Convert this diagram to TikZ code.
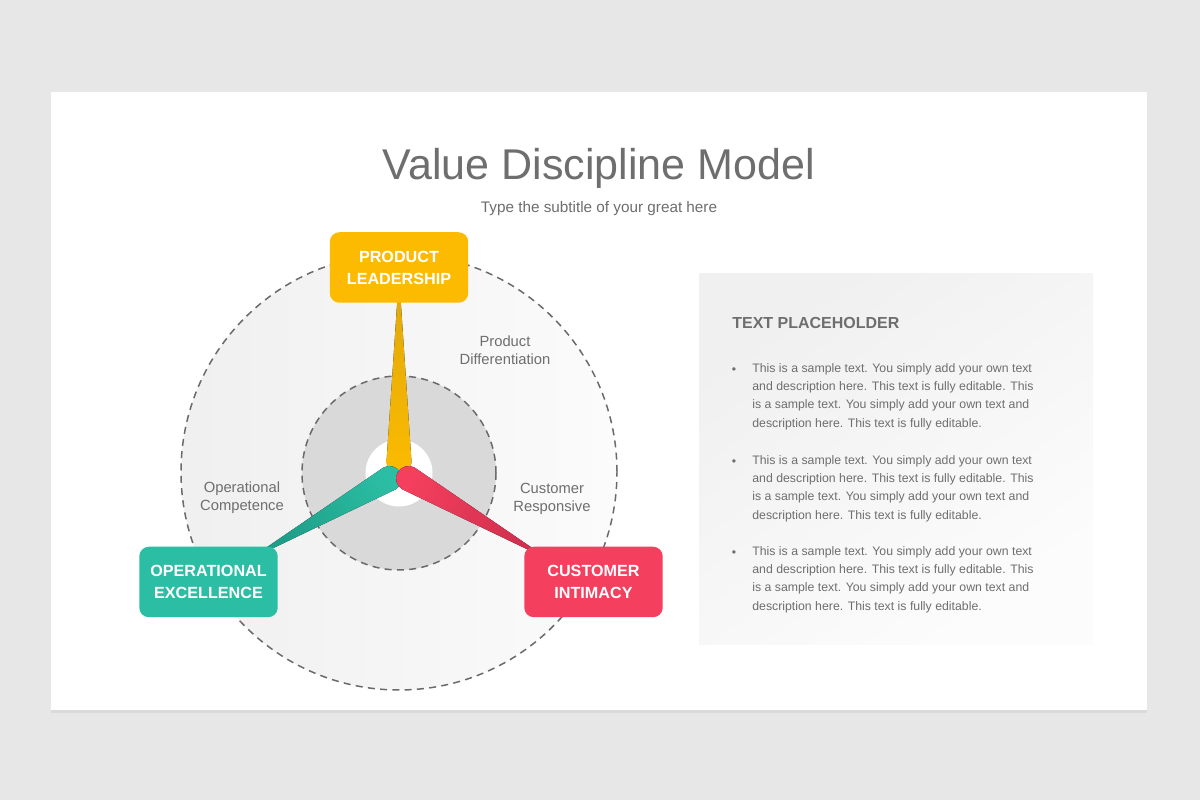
\documentclass[tikz,border=0pt]{standalone}
\usepackage{fontspec}
\setmainfont{Liberation Sans}
\usetikzlibrary{shadows}

\definecolor{bgGray}{HTML}{E8E7E8}
\definecolor{txtGray}{HTML}{6E6E6E}
\definecolor{dashGray}{HTML}{6A6A6A}
\definecolor{innerGray}{HTML}{D9D9D9}
\definecolor{prodYellow}{HTML}{FCBB00}
\definecolor{prodYellowDk}{HTML}{E2A90A}
\definecolor{operTeal}{HTML}{2BBEA4}
\definecolor{operTealDk}{HTML}{1E9E88}
\definecolor{custRed}{HTML}{F43F5E}
\definecolor{custRedDk}{HTML}{D2304E}

\tikzset{
  valuebox/.style={rounded corners=5.5pt, minimum width=2.77cm, minimum height=1.41cm,
                   text=white, align=center, font=\fontsize{9.2}{12.5}\selectfont\bfseries},
  sublabel/.style={text=txtGray, align=center, font=\fontsize{8.4}{10.2}\selectfont},
  bodytext/.style={text=txtGray, align=left, inner sep=0pt, font=\fontsize{7}{10.4}\selectfont},
  dashring/.style={dashGray, line width=0.85pt, dash pattern=on 4pt off 3pt},
}

% one blade of the hub: angle, length, base colour, tip colour
\newcommand{\hubblade}[4]{%
  \pgfmathsetmacro{\shadeang}{#1-90}
  \begin{scope}[shift={(hub)}, rotate=#1]
    \fill[shading=axis, top color=#4, bottom color=#3, shading angle=\shadeang] (#2,1.5) -- (11,12.5)
         arc[start angle=90, end angle=270, radius=12.5] -- (#2,-1.5) -- cycle;
  \end{scope}}

\begin{document}
\begin{tikzpicture}[x=0.02cm, y=0.02cm]

%\draw[help lines, step=50] (0,0) grid (1200,800);
\useasboundingbox (0,0) rectangle (1200,800);
\fill[bgGray] (0,0) rectangle (1200,800);

% slide
\fill[white, drop shadow={shadow xshift=0pt, shadow yshift=-1.5pt, opacity=0.12}]
     (51,90) rectangle (1147,708);

\node[anchor=base, text=txtGray, font=\fontsize{24.5}{29}\selectfont] (title) at (599,620) {Value Discipline Model};
\node[anchor=base, text=txtGray, font=\fontsize{8.7}{10}\selectfont] (subtitle) at (599,587) {Type the subtitle of your great here};

% rings
\coordinate (hub) at (399,327);
\shade[left color=black!6, right color=black!1.5] (399,328) circle[radius=218];
\draw[dashring] (399,328) circle[radius=218];
\fill[innerGray] (hub) circle[radius=97];
\draw[dashring] (hub) circle[radius=97];
\fill[white] (hub) circle[radius=33.5];

% blades
\hubblade{90}{175}{prodYellow}{prodYellowDk}
\hubblade{210}{155}{operTeal}{operTealDk}
\hubblade{330}{155}{custRed}{custRedDk}

% boxes
\node[valuebox, fill=prodYellow] (prodbox) at (399,532.5) {PRODUCT\\LEADERSHIP};
\node[valuebox, fill=operTeal] (operbox) at (208.5,218) {OPERATIONAL\\EXCELLENCE};
\node[valuebox, fill=custRed] (custbox) at (593.5,218) {CUSTOMER\\INTIMACY};

\node[sublabel] (proddiff) at (505,450) {Product\\Differentiation};
\node[sublabel] (opercomp) at (242,302) {Operational\\Competence};
\node[sublabel] (custresp) at (552,301.5) {Customer\\Responsive};

% text panel
\shade[top color=black!6, bottom color=black!1, shading angle=35] (699,155) rectangle (1093,526);
\node[anchor=west, inner sep=0pt, text=txtGray, font=\fontsize{9.1}{11}\selectfont\bfseries] (placeholder) at (732,477) {TEXT PLACEHOLDER};

\foreach \y/\name in {403.5/parone, 311.5/partwo, 220.5/parthree}{
  \node[bodytext, anchor=west] (\name) at (752,\y)
    {This is a sample text. You simply add your own text\\
     and description here. This text is fully editable. This\\
     is a sample text. You simply add your own text and\\
     description here. This text is fully editable.};
  \node[text=txtGray, inner sep=0pt, font=\fontsize{7}{8}\selectfont] (\name dot) at (734,\y+26) {\textbullet};
}

\end{tikzpicture}
\end{document}
